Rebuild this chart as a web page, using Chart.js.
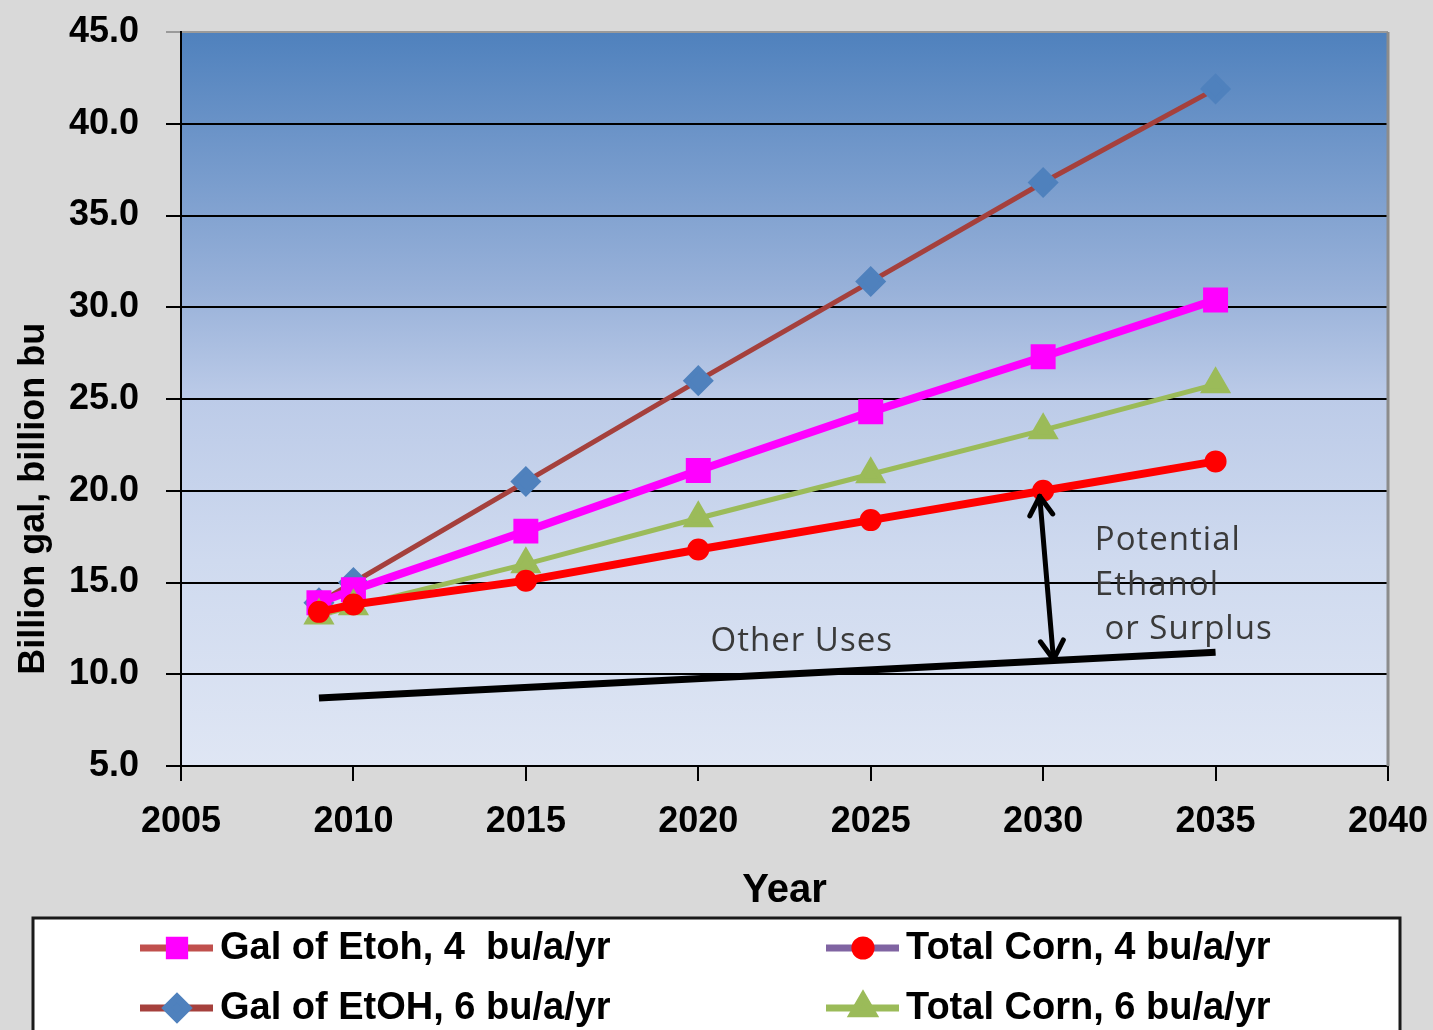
<!DOCTYPE html>
<html><head><meta charset="utf-8">
<script src="https://cdn.jsdelivr.net/npm/chart.js@4.4.1/dist/chart.umd.min.js"></script>
<style>html,body{margin:0;padding:0;background:#d9d9d9;overflow:hidden}#wrap{width:1433px;height:1030px;position:relative}</style>
</head><body><div id="wrap"><canvas id="c"></canvas></div>
<script>
// ---- data ----
const years = [2009, 2010, 2015, 2020, 2025, 2030, 2035];
const galEtoh4 = [13.9, 14.6, 17.8, 21.1, 24.3, 27.3, 30.4];
const totalCorn4 = [13.4, 13.8, 15.1, 16.8, 18.4, 20.0, 21.6];
const galEtoh6 = [13.9, 15.0, 20.5, 26.0, 31.4, 36.8, 41.9];
const totalCorn6 = [13.2, 13.7, 16.0, 18.5, 20.9, 23.3, 25.8];
const otherUsesYears = [2009, 2035];
const otherUses = [8.7, 11.2];
const seriesLabels = ['Gal of Etoh, 4  bu/a/yr', 'Total Corn, 4 bu/a/yr', 'Gal of EtOH, 6 bu/a/yr', 'Total Corn, 6 bu/a/yr'];
const xTickValues = [2005, 2010, 2015, 2020, 2025, 2030, 2035, 2040];
const yTickValues = [5, 10, 15, 20, 25, 30, 35, 40, 45];
const yTitle = 'Billion gal, billion bu';
const xTitle = 'Year';
const noteOther = 'Other Uses';
const noteSurplus = ['Potential', 'Ethanol', ' or Surplus'];

const pts = (xs, ys) => xs.map((x, i) => ({x, y: ys[i]}));
const FONT = "'Liberation Sans', Arial, sans-serif";
const NOTE_FONT = "'Open Sans', 'Noto Sans', sans-serif";

const datasets = [
  {label: seriesLabels[0], data: pts(years, galEtoh4), borderColor: '#ff00ff', backgroundColor: '#ff00ff',
   borderWidth: 8, pointStyle: 'rect', pointRadius: 12, pointBackgroundColor: '#ff00ff', pointBorderColor: '#ff00ff',
   order: 3, legendLine: '#c0504d'},
  {label: seriesLabels[1], data: pts(years, totalCorn4), borderColor: '#ff0000', backgroundColor: '#ff0000',
   borderWidth: 8, pointStyle: 'circle', pointRadius: 7, pointBackgroundColor: '#ff0000', pointBorderColor: '#ff0000',
   order: 1, legendLine: '#8064a2'},
  {label: seriesLabels[2], data: pts(years, galEtoh6), borderColor: '#a5403c', backgroundColor: '#4f81bd',
   borderWidth: 5, pointStyle: 'rectRot', pointRadius: 12, pointBackgroundColor: '#4f81bd', pointBorderColor: '#4f81bd',
   order: 4, legendLine: '#a5403c'},
  {label: seriesLabels[3], data: pts(years, totalCorn6), borderColor: '#9bbb59', backgroundColor: '#9bbb59',
   borderWidth: 5, pointStyle: 'triangle', pointRadius: 13, pointBackgroundColor: '#9bbb59', pointBorderColor: '#9bbb59',
   order: 2, legendLine: '#9bbb59'},
  {label: noteOther, data: pts(otherUsesYears, otherUses), borderColor: '#000000', borderWidth: 7,
   pointRadius: 0, order: 0, hideInLegend: true}
];

const annotations = {
  arrow: {x1: 2029.9, y1: 19.7, x2: 2030.3, y2: 10.8},
  other: {x: 2023.0, y: 11.8},
  surplus: [{x: 2031.5, y: 17.3}, {x: 2031.5, y: 14.85}, {x: 2031.5, y: 12.45}]
};

const decorPlugin = {
  id: 'decor',
  beforeDraw(chart) {
    const {ctx, chartArea: a} = chart;
    ctx.save();
    ctx.fillStyle = '#d9d9d9';
    ctx.fillRect(0, 0, chart.width, chart.height);
    const g = ctx.createLinearGradient(0, a.top, 0, a.bottom);
    g.addColorStop(0, '#4f81bd');
    g.addColorStop(0.35, '#98b1d9');
    g.addColorStop(0.5, '#bccbe8');
    g.addColorStop(0.72, '#cfdaef');
    g.addColorStop(1, '#dfe6f4');
    ctx.fillStyle = g;
    ctx.fillRect(a.left, a.top, a.right - a.left, a.bottom - a.top);
    ctx.restore();
  },
  afterDatasetsDraw(chart) {
    const {ctx, chartArea: a, scales: {x, y}} = chart;
    ctx.save();
    ctx.strokeStyle = '#8c8c8c';
    ctx.lineWidth = 3;
    ctx.beginPath();
    ctx.moveTo(a.right, a.top); ctx.lineTo(a.right, a.bottom);
    ctx.stroke();
    const ar = annotations.arrow;
    const x1 = x.getPixelForValue(ar.x1), y1 = y.getPixelForValue(ar.y1);
    const x2 = x.getPixelForValue(ar.x2), y2 = y.getPixelForValue(ar.y2);
    ctx.strokeStyle = '#000';
    ctx.lineWidth = 5;
    ctx.lineCap = 'round';
    ctx.lineJoin = 'round';
    ctx.beginPath();
    ctx.moveTo(x1, y1); ctx.lineTo(x2, y2); ctx.stroke();
    const ang = Math.atan2(y2 - y1, x2 - x1);
    const head = (px, py, a0) => {
      ctx.beginPath();
      ctx.moveTo(px + 22 * Math.cos(a0 + 0.55), py + 22 * Math.sin(a0 + 0.55));
      ctx.lineTo(px, py);
      ctx.lineTo(px + 22 * Math.cos(a0 - 0.55), py + 22 * Math.sin(a0 - 0.55));
      ctx.stroke();
    };
    head(x1, y1, ang);
    head(x2, y2, ang + Math.PI);
    ctx.fillStyle = '#3a3a3a';
    ctx.font = '33px ' + NOTE_FONT;
    ctx.letterSpacing = '1px';
    ctx.textBaseline = 'middle';
    ctx.textAlign = 'center';
    ctx.fillText(noteOther, x.getPixelForValue(annotations.other.x), y.getPixelForValue(annotations.other.y));
    ctx.textAlign = 'left';
    noteSurplus.forEach((t, i) => {
      const p = annotations.surplus[i];
      ctx.fillText(t, x.getPixelForValue(p.x), y.getPixelForValue(p.y));
    });
    ctx.restore();
  },
  afterDraw(chart) {
    const {ctx, chartArea: a, scales: {x}} = chart;
    ctx.save();
    ctx.fillStyle = '#000';
    ctx.font = 'bold 36px ' + FONT;
    ctx.textAlign = 'center';
    ctx.textBaseline = 'middle';
    ctx.translate(34, a.top + (a.bottom - a.top) * 0.636);
    ctx.rotate(-Math.PI / 2);
    ctx.fillText(yTitle, 0, 0);
    ctx.restore();
    ctx.save();
    const top = x.bottom;
    ctx.fillStyle = '#ffffff';
    ctx.fillRect(33, top, 1367, chart.height - top + 10);
    ctx.strokeStyle = '#1a1a1a';
    ctx.lineWidth = 3;
    ctx.strokeRect(33, top, 1367, chart.height - top + 10);
    const cols = [140, 826];
    const rows = [top + 30, top + 90];
    let idx = 0;
    chart.data.datasets.forEach((ds) => {
      if (ds.hideInLegend) return;
      const cx = cols[idx % 2], cy = rows[Math.floor(idx / 2)];
      ctx.strokeStyle = ds.legendLine;
      ctx.lineWidth = 7;
      ctx.lineCap = 'butt';
      ctx.beginPath();
      ctx.moveTo(cx, cy); ctx.lineTo(cx + 73, cy); ctx.stroke();
      ctx.fillStyle = ds.pointBackgroundColor;
      ctx.strokeStyle = ds.pointBorderColor;
      Chart.helpers.drawPoint(ctx, {pointStyle: ds.pointStyle, radius: Math.max(ds.pointRadius, 9) * 0.9, rotation: 0, borderWidth: 1}, cx + 37, cy);
      ctx.fillStyle = '#000';
      ctx.font = 'bold 38px ' + FONT;
      ctx.textAlign = 'left';
      ctx.textBaseline = 'middle';
      ctx.fillText(ds.label, cx + 80, cy + 1);
      idx++;
    });
    ctx.restore();
  }
};

Chart.defaults.font.family = FONT;
new Chart(document.getElementById('c'), {
  type: 'line',
  data: {datasets},
  options: {
    responsive: true,
    maintainAspectRatio: false,
    animation: false,
    layout: {padding: {top: 32, right: 45, left: 0, bottom: 112}},
    plugins: {legend: {display: false}, tooltip: {enabled: false}},
    elements: {line: {tension: 0}},
    scales: {
      x: {
        type: 'linear', min: 2005, max: 2040,
        afterBuildTicks: (s) => { s.ticks = xTickValues.map(v => ({value: v})); },
        ticks: {callback: v => String(v), color: '#000', font: {size: 36, weight: 'bold'}, padding: 19, maxRotation: 0, autoSkip: false},
        grid: {drawOnChartArea: false, drawTicks: true, tickLength: 15, color: '#000', lineWidth: 2},
        border: {color: '#000', width: 2},
        title: {display: true, text: xTitle, color: '#000', font: {size: 40, weight: 'bold'}, padding: {top: 0, bottom: 3}},
        afterFit: (s) => { s.height = 152; s.paddingLeft = 0; s.paddingRight = 0; }
      },
      y: {
        type: 'linear', min: 5, max: 45,
        afterBuildTicks: (s) => { s.ticks = yTickValues.map(v => ({value: v})); },
        ticks: {callback: v => Number(v).toFixed(1), color: '#000', font: {size: 36, weight: 'bold'}, padding: 27, autoSkip: false},
        grid: {drawTicks: true, tickLength: 15, lineWidth: 2,
               color: (c) => (c.tick && c.tick.value === 45) ? '#9a9a9a' : '#000'},
        border: {color: '#000', width: 2},
        afterFit: (s) => { s.width = 181; s.paddingTop = 0; s.paddingBottom = 0; }
      }
    }
  },
  plugins: [decorPlugin]
});
</script></body></html>
